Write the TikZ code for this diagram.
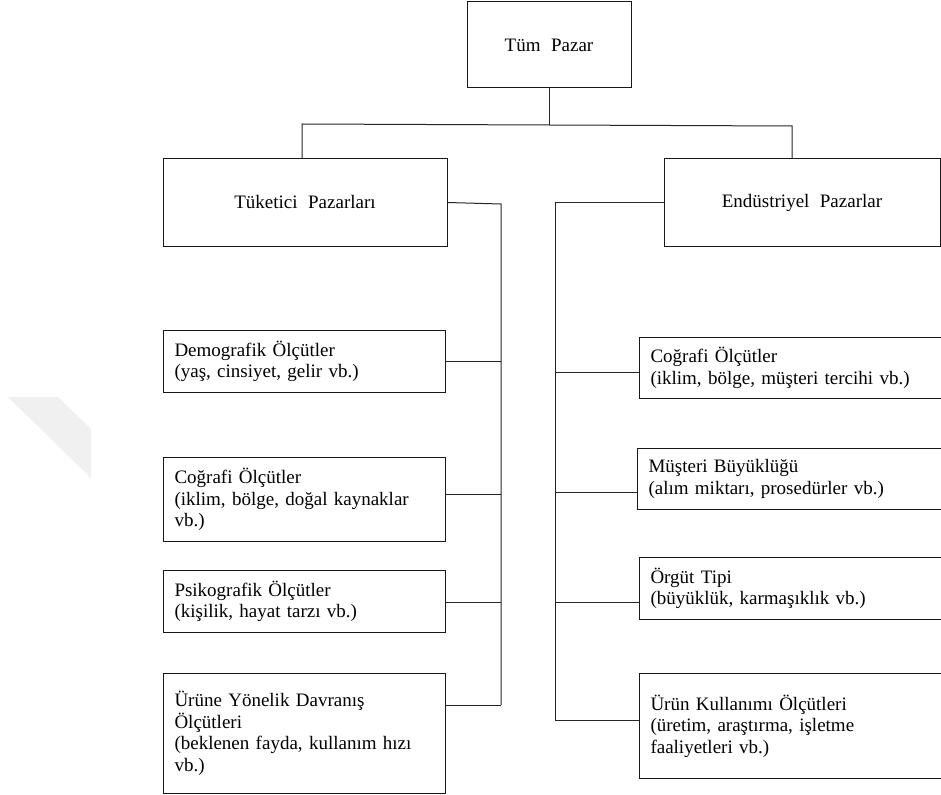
\documentclass[tikz,border=0pt]{standalone}
\usepackage{fontspec}
\setmainfont{Liberation Serif}[WordSpace=2.2]
\begin{document}
\begin{tikzpicture}[x=1pt,y=-1pt,
  line width=1pt,
  every node/.style={font=\fontsize{19}{21.5}\selectfont, text=black},
  head/.style={draw=black!90, inner sep=0pt, align=center},
  item/.style={draw=black!90, anchor=north west, inner xsep=11pt, inner ysep=0pt, align=left},
  link/.style={draw=black!85, line width=1pt}]
  \useasboundingbox (0,0) rectangle (941,794);
  \clip (0,0) rectangle (941,794);
  \fill[white] (0,0) rectangle (941,794);

  % faint watermark band
  \fill[black!6] (8,397) -- (58,397) -- (91,429) -- (91,478) -- cycle;

  % top level
  \node[head, minimum width=164pt, minimum height=86pt] (top) at (549,45) {Tüm Pazar};
  \node[head, minimum width=284pt, minimum height=87pt] (tk) at (305,202.5) {Tüketici Pazarları};
  \node[head, minimum width=276pt, minimum height=87pt] (en) at (802,202.5) {Endüstriyel Pazarlar};

  % consumer market criteria
  \node[item, text width=260pt, minimum height=62pt] (dm) at (163,330)
    {Demografik Ölçütler\\(yaş, cinsiyet, gelir vb.)};
  \node[item, text width=260pt, minimum height=84pt] (cg) at (163,457)
    {Coğrafi Ölçütler\\(iklim, bölge, doğal kaynaklar\\vb.)};
  \node[item, text width=260pt, minimum height=62pt] (ps) at (163,570)
    {Psikografik Ölçütler\\(kişilik, hayat tarzı vb.)};
  \node[item, text width=260pt, minimum height=120pt] (ur) at (163,673)
    {Ürüne Yönelik Davranış\\Ölçütleri\\(beklenen fayda, kullanım hızı\\vb.)};

  % industrial market criteria
  \node[item, text width=299pt, minimum height=61pt] (cr) at (639,337)
    {Coğrafi Ölçütler\\(iklim, bölge, müşteri tercihi vb.)};
  \node[item, text width=301pt, minimum height=61pt] (ms) at (637,448)
    {Müşteri Büyüklüğü\\(alım miktarı, prosedürler vb.)};
  \node[item, text width=299pt, minimum height=62pt] (og) at (639,557)
    {Örgüt Tipi\\(büyüklük, karmaşıklık vb.)};
  \node[item, text width=299pt, minimum height=105pt] (uk) at (639,673)
    {Ürün Kullanımı Ölçütleri\\(üretim, araştırma, işletme\\faaliyetleri vb.)};

  % top split
  \coordinate (hub) at (549,125);
  \coordinate (j1) at (302,124);
  \coordinate (j2) at (792,126);
  \draw[link] (top.south) -- (hub);
  \draw[link] (j1 |- tk.north) -- (j1) -- (hub) -- (j2) -- (j2 |- en.north);

  % left bus
  \coordinate (lb0) at (501,204);
  \coordinate (lb1) at (501,361);
  \coordinate (lb2) at (501,494);
  \coordinate (lb3) at (501,602);
  \coordinate (lb4) at (501,705);
  \draw[link] (tk.east) -- (lb0) -- (lb4);
  \draw[link] (lb1) -- (lb1 -| dm.east);
  \draw[link] (lb2) -- (lb2 -| cg.east);
  \draw[link] (lb3) -- (lb3 -| ps.east);
  \draw[link] (lb4) -- (lb4 -| ur.east);

  % right bus
  \coordinate (rb0) at (555,202.5);
  \coordinate (rb1) at (555,372);
  \coordinate (rb2) at (555,492);
  \coordinate (rb3) at (555,602);
  \coordinate (rb4) at (555,720);
  \draw[link] (en.west) -- (rb0) -- (rb4);
  \draw[link] (rb1) -- (rb1 -| cr.west);
  \draw[link] (rb2) -- (rb2 -| ms.west);
  \draw[link] (rb3) -- (rb3 -| og.west);
  \draw[link] (rb4) -- (rb4 -| uk.west);
\end{tikzpicture}
\end{document}
